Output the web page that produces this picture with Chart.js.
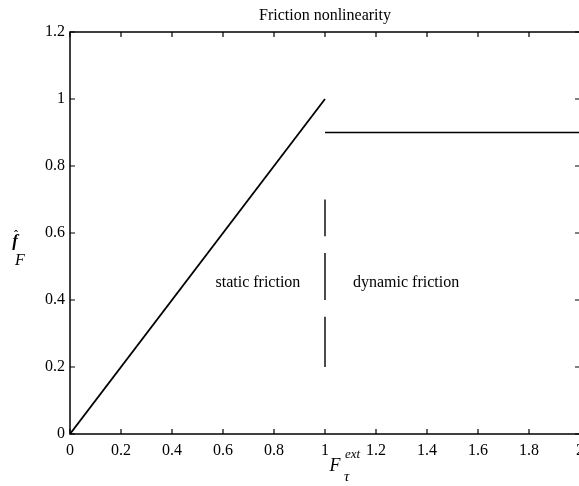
<!DOCTYPE html>
<html>
<head>
<meta charset="utf-8">
<script src="https://cdn.jsdelivr.net/npm/chart.js@4/dist/chart.umd.min.js"></script>
<style>
html,body{margin:0;padding:0;background:#fff;overflow:hidden;width:579px;height:486px;}
canvas{display:block;}
</style>
</head>
<body>
<canvas id="c" width="600" height="486"></canvas>
<script>
// ---- data ----
const chartTitle = "Friction nonlinearity";
const xTickValues = [0, 0.2, 0.4, 0.6, 0.8, 1, 1.2, 1.4, 1.6, 1.8, 2];
const xTickLabels = ["0", "0.2", "0.4", "0.6", "0.8", "1", "1.2", "1.4", "1.6", "1.8", "2"];
const yTickValues = [0, 0.2, 0.4, 0.6, 0.8, 1, 1.2];
const yTickLabels = ["0", "0.2", "0.4", "0.6", "0.8", "1", "1.2"];
const staticX = [0, 1];
const staticY = [0, 1];
const dynamicX = [1, 2];
const dynamicY = [0.9, 0.9];
const boundaryX = [1, 1, 1, 1, 1, 1, 1, 1];
const boundaryY = [0.70, 0.59, null, 0.54, 0.40, null, 0.35, 0.20];
const regionLabels = ["static friction", "dynamic friction"];
const regionX = [0.737, 1.318];
const regionY = [0.45, 0.45];

const FONT = "'Liberation Serif', 'Times New Roman', serif";
const toPts = (xs, ys) => xs.map((x, i) => ({x: x, y: ys[i]}));

const framePlugin = {
  id: 'frame',
  afterDraw(chart) {
    const ctx = chart.ctx, a = chart.chartArea;
    const xs = chart.scales.x, ys = chart.scales.y;
    ctx.save();
    ctx.strokeStyle = '#000';
    ctx.lineWidth = 1.5;
    ctx.strokeRect(a.left, a.top, a.right - a.left, a.bottom - a.top);
    ctx.lineWidth = 1.2;
    const tl = 5;
    ctx.beginPath();
    xTickValues.forEach(v => {
      const px = xs.getPixelForValue(v);
      ctx.moveTo(px, a.bottom); ctx.lineTo(px, a.bottom - tl);
      ctx.moveTo(px, a.top); ctx.lineTo(px, a.top + tl);
    });
    yTickValues.forEach(v => {
      const py = ys.getPixelForValue(v);
      ctx.moveTo(a.left, py); ctx.lineTo(a.left + tl, py);
      ctx.moveTo(a.right, py); ctx.lineTo(a.right - tl, py);
    });
    ctx.stroke();

    ctx.fillStyle = '#000';
    // title
    ctx.font = '16px ' + FONT;
    ctx.textAlign = 'center';
    ctx.textBaseline = 'middle';
    ctx.fillText(chartTitle, (a.left + a.right) / 2, 16);

    // region labels
    regionLabels.forEach((t, i) => {
      ctx.fillText(t, xs.getPixelForValue(regionX[i]), ys.getPixelForValue(regionY[i]));
    });

    // x axis label  F_tau^ext
    const cx = xs.getPixelForValue(1);
    ctx.font = 'italic 18px ' + FONT;
    ctx.textAlign = 'center';
    ctx.fillText('F', cx + 10, 466);
    ctx.font = 'italic 13px ' + FONT;
    ctx.textAlign = 'left';
    ctx.fillText('ext', cx + 20, 455);
    ctx.font = 'italic 15px ' + FONT;
    ctx.fillText('\u03C4', cx + 19, 477);

    // y axis label  f-hat_F
    ctx.font = 'italic bold 17px ' + FONT;
    ctx.textAlign = 'center';
    ctx.fillText('f', 15, 242);
    ctx.font = 'bold 12px ' + FONT;
    ctx.fillText('\u02C6', 16, 236);
    ctx.font = 'italic 16px ' + FONT;
    ctx.fillText('F', 20, 261);
    ctx.restore();
  }
};

new Chart(document.getElementById('c'), {
  type: 'scatter',
  data: {
    datasets: [
      { data: toPts(staticX, staticY), showLine: true, borderColor: '#000', borderWidth: 1.8, pointRadius: 0, fill: false },
      { data: toPts(dynamicX, dynamicY), showLine: true, borderColor: '#000', borderWidth: 1.6, pointRadius: 0, fill: false },
      { data: toPts(boundaryX, boundaryY), showLine: true, spanGaps: false, borderColor: '#000', borderWidth: 1.4, pointRadius: 0, fill: false }
    ]
  },
  options: {
    responsive: false,
    animation: false,
    devicePixelRatio: 1,
    layout: { padding: { top: 32, right: 20, left: 0, bottom: 0 } },
    plugins: { legend: { display: false }, title: { display: false }, tooltip: { enabled: false } },
    scales: {
      x: {
        type: 'linear', min: 0, max: 2,
        afterBuildTicks: s => { s.ticks = xTickValues.map(v => ({value: v})); },
        afterFit: s => { s.height = 52; },
        grid: { display: false, drawTicks: false },
        border: { display: false },
        ticks: {
          padding: 7, color: '#000', maxRotation: 0, autoSkip: false,
          font: { family: FONT, size: 16 },
          callback: (v) => { const i = xTickValues.findIndex(t => Math.abs(t - v) < 1e-9); return i >= 0 ? xTickLabels[i] : ''; }
        }
      },
      y: {
        type: 'linear', min: 0, max: 1.2,
        afterBuildTicks: s => { s.ticks = yTickValues.map(v => ({value: v})); },
        afterFit: s => { s.width = 70; },
        grid: { display: false, drawTicks: false },
        border: { display: false },
        ticks: {
          padding: 5, color: '#000', autoSkip: false,
          font: { family: FONT, size: 16 },
          callback: (v) => { const i = yTickValues.findIndex(t => Math.abs(t - v) < 1e-9); return i >= 0 ? yTickLabels[i] : ''; }
        }
      }
    }
  },
  plugins: [framePlugin]
});
</script>
</body>
</html>
